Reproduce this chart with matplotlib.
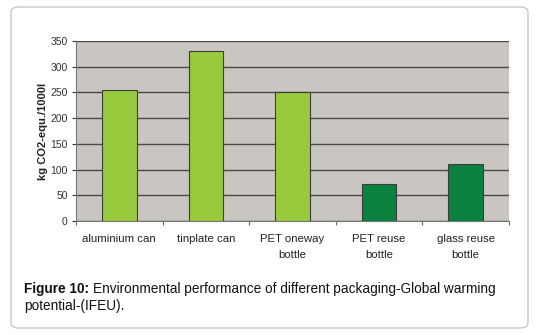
import matplotlib
matplotlib.use("Agg")
import matplotlib.pyplot as plt
from matplotlib.patches import FancyBboxPatch
import numpy as np

categories = ["aluminium can", "tinplate can", "PET oneway\nbottle", "PET reuse\nbottle", "glass reuse\nbottle"]
values = [254, 330, 251, 71, 111]
colors = ["#99c93c", "#99c93c", "#99c93c", "#0b8140", "#0b8140"]
yticks = [0, 50, 100, 150, 200, 250, 300, 350]

plt.rcParams['font.family'] = ['Liberation Sans', 'DejaVu Sans']

W, H = 538, 335
fig = plt.figure(figsize=(W/100, H/100), dpi=100)
fig.patch.set_facecolor("white")

box = FancyBboxPatch((11/W, 7/H), 517/W, 321/H, boxstyle="round,pad=0,rounding_size=0.015",
                     transform=fig.transFigure, facecolor="white", edgecolor="#c8c8c8", linewidth=1.0,
                     zorder=-10)
fig.patches.append(box)

ax = fig.add_axes([76/W, 1 - 221/H, 433/W, 180/H])
ax.set_facecolor("#c9c5c1")
x = np.arange(len(categories))
ax.bar(x, values, width=0.40, color=colors, edgecolor="#3c3c3c", linewidth=0.8, zorder=3)
ax.set_xlim(-0.5, len(categories) - 0.5)
ax.set_ylim(0, 350)
ax.set_yticks(yticks)
ax.tick_params(axis='y', labelsize=7.5, colors="#333333", length=3, width=0.8, pad=3)
ax.yaxis.grid(True, color="#4a4a4a", linewidth=1.0, zorder=1)
ax.set_axisbelow(True)
ax.set_xticks(np.arange(len(categories) + 1) - 0.5, minor=False)
ax.set_xticklabels([])
ax.tick_params(axis='x', length=3, width=0.8, colors="#666666", direction='out')
ax.set_xticks(x, minor=True)
ax.set_xticklabels(categories, minor=True, linespacing=1.75)
ax.tick_params(axis='x', which='minor', length=0, labelsize=8.2, labelcolor="#222222", pad=9)
for s in ["top", "right"]:
    ax.spines[s].set_visible(False)
ax.spines["left"].set_color("#777777")
ax.spines["bottom"].set_color("#777777")
ax.spines["left"].set_linewidth(0.8)
ax.spines["bottom"].set_linewidth(0.8)
ax.set_ylabel("kg CO2-equ./1000l", fontsize=8, fontweight='bold', color="#222222", labelpad=2)

t1 = fig.text(24/W, 1 - 289/H, "Figure 10: ", fontsize=9.8, fontweight='bold', va='center', ha='left', color="#111111")
fig.canvas.draw()
bb = t1.get_window_extent()
fig.text(bb.x1/W, 1 - 289/H, "Environmental performance of different packaging-Global warming",
         fontsize=9.8, va='center', ha='left', color="#111111")
fig.text(24/W, 1 - 306/H, "potential-(IFEU).", fontsize=9.8, va='center', ha='left', color="#111111")

fig.savefig("out.png", dpi=100)
